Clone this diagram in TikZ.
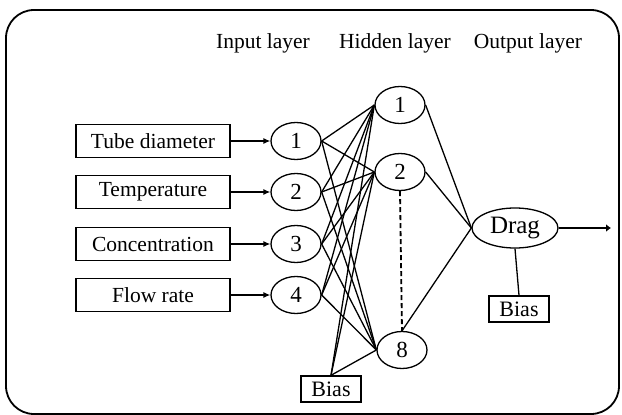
\documentclass[tikz,border=0pt]{standalone}
\usepackage{fontspec}
\setmainfont{Liberation Serif}
\usetikzlibrary{shapes.geometric,arrows.meta}

\begin{document}
\begin{tikzpicture}[x=1pt, y=-1pt,
    inputbox/.style={draw, line width=1.4pt, minimum width=154pt, minimum height=33pt, inner sep=0pt, font=\fontsize{21.5}{24}\selectfont},
    neuron/.style={draw, ellipse, line width=1.3pt, minimum width=50pt, minimum height=37pt, inner sep=0pt, font=\fontsize{23}{26}\selectfont},
    biasbox/.style={draw, line width=1.4pt, minimum width=60pt, minimum height=26pt, inner sep=0pt, font=\fontsize{22}{24}\selectfont},
    layertitle/.style={font=\fontsize{21.5}{24}\selectfont},
    link/.style={line width=1.3pt}]

    % Define frame size
    \def\frameW{622}
    \def\frameH{415}

    \definecolor{borderColour}{HTML}{000000}

    % Draw frame
    \useasboundingbox (0,0) rectangle (\frameW,\frameH);
    \clip (0,0) rectangle (\frameW,\frameH);
    \draw[draw=borderColour, line width=1.8pt, rounded corners=28pt] (6,10) rectangle (619,414);

    % Layer titles
    \node[layertitle] (tIn)  at (263,43) {Input layer};
    \node[layertitle] (tHid) at (395,43) {Hidden layer};
    \node[layertitle] (tOut) at (528,43) {Output layer};

    % Input boxes and input neurons
    \foreach \i/\name/\y in {1/Tube diameter/141, 2/Temperature/192, 3/Concentration/244, 4/Flow rate/295} {
        \node[inputbox] (box\i) at (153,\y) {\name};
        \node[neuron] (in\i) at (296,\y) {\i};
        \draw[link, -{Latex[length=7pt,width=6pt]}] (box\i) -- (in\i);
    }

    % Hidden neurons
    \node[neuron] (hid1) at (400,105) {1};
    \node[neuron] (hid2) at (400,172) {2};
    \node[neuron] (hid8) at (402,350) {8};

    % Output neuron and biases
    \node[neuron, minimum width=86pt, minimum height=40pt, font=\fontsize{25}{28}\selectfont] (drag) at (515,228) {Drag};
    \node[biasbox] (biasOut) at (519,309) {Bias};
    \node[biasbox] (biasIn) at (331,389) {Bias};
    \coordinate (out) at (611,228);

    % Draw weights input -> hidden
    \foreach \i in {1,...,4}
        \foreach \h in {1,2,8}
            \draw[link] (in\i.east) -- (hid\h.west);
    \foreach \h in {1,2,8}
        \draw[link] (biasIn.north) -- (hid\h.west);

    % Draw weights hidden -> output
    \draw[link] (hid1.east) -- (drag.west);
    \draw[link] (hid2.east) -- (drag.west);
    \draw[link] (hid8.north) -- (drag.west);
    \draw[line width=1.8pt, dash pattern=on 5pt off 3pt] (hid2.south) -- (hid8.north);
    \draw[link] (drag.south) -- (biasOut.north);
    \draw[line width=2.4pt, -{Latex[length=5pt,width=8pt]}] (drag.east) -- (out);

\end{tikzpicture}
\end{document}
